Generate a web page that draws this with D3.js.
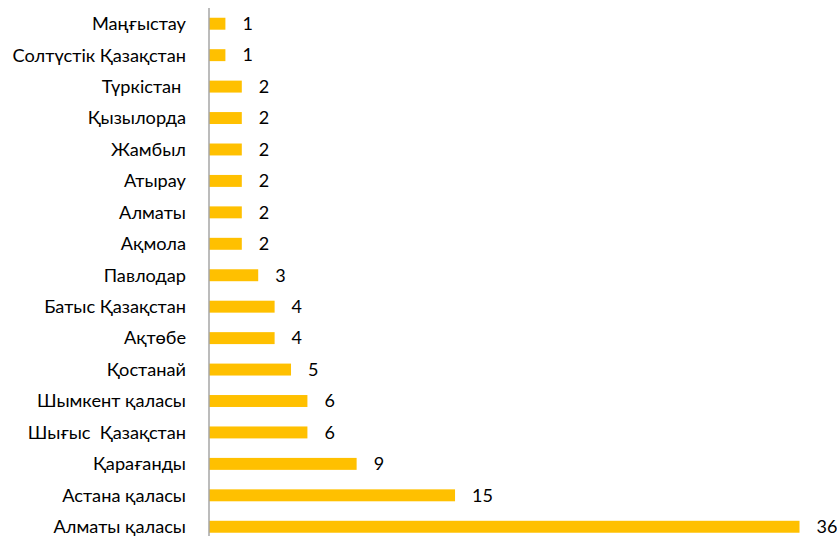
<!DOCTYPE html>
<html><head><meta charset="utf-8">
<script src="https://cdn.jsdelivr.net/npm/d3@7"></script>
<style>html,body{margin:0;padding:0;background:#fff;}svg{display:block;}</style>
</head><body>
<svg id="c" width="837" height="536"></svg>
<script>
const categories = ["Маңғыстау","Солтүстік Қазақстан","Түркістан ","Қызылорда","Жамбыл","Атырау","Алматы","Ақмола","Павлодар","Батыс Қазақстан","Ақтөбе","Қостанай","Шымкент қаласы","Шығыс  Қазақстан","Қарағанды","Астана қаласы","Алматы қаласы"];
const values = [1,1,2,2,2,2,2,2,3,4,4,5,6,6,9,15,36];

const svg = d3.select("#c");
const x0 = 209;
const x = d3.scaleLinear().domain([0,36]).range([x0, 799.5]);
const y = d3.scaleBand().domain(categories).range([8, 8 + 17*31.44]).paddingInner(0.62).paddingOuter(0.31);
const font = "Lato, sans-serif";

svg.selectAll("rect.bar").data(values).join("rect")
  .attr("class","bar")
  .attr("x", x(0))
  .attr("y", (d,i)=>y(categories[i]))
  .attr("width", d=>x(d)-x(0))
  .attr("height", y.bandwidth())
  .attr("fill", "#FFC000");

svg.append("line").attr("x1",x0).attr("x2",x0).attr("y1",8).attr("y2",536)
  .attr("stroke","#A6A6A6").attr("stroke-width",1.5);

svg.selectAll("text.cat").data(categories).join("text")
  .attr("class","cat")
  .attr("x", 186)
  .attr("y", d=>y(d)+y.bandwidth()/2)
  .attr("dy","0.35em")
  .attr("text-anchor","end")
  .attr("font-family", font)
  .attr("font-size", 18.2)
  .attr("fill","#000")
  .style("white-space","pre")
  .text(d=>d);

svg.selectAll("text.val").data(values).join("text")
  .attr("class","val")
  .attr("x", d=>x(d)+17)
  .attr("y", (d,i)=>y(categories[i])+y.bandwidth()/2)
  .attr("dy","0.35em")
  .attr("font-family", font)
  .attr("font-size", 18)
  .attr("fill","#000")
  .text(d=>d);
</script>
</body></html>
